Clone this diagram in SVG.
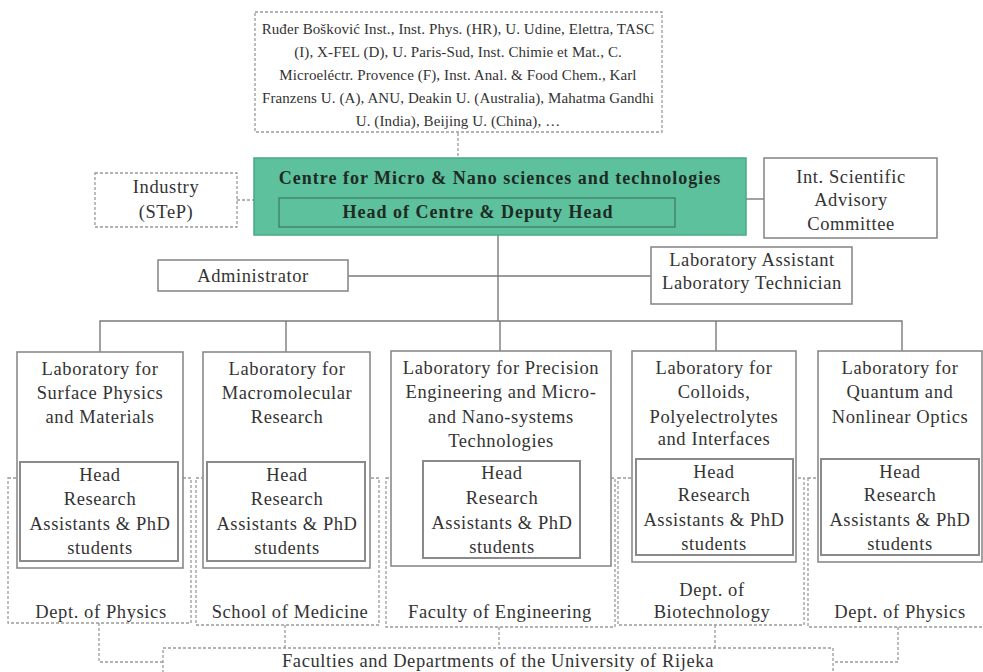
<svg xmlns="http://www.w3.org/2000/svg" width="983" height="672" viewBox="0 0 983 672">
  <style>
    text { font-family: "Liberation Serif", "Times New Roman", serif; fill: #333333; text-anchor: middle; }
    .t { font-size: 18.5px; letter-spacing: 0.6px; }
    .small { font-size: 15px; letter-spacing: 0.1px; }
    .bold { font-size: 18px; font-weight: bold; letter-spacing: 1px; fill: #1f2a24; }
    .box { fill: #ffffff; stroke: #8a8a8a; stroke-width: 1.6; }
    .inner { fill: #ffffff; stroke: #8a8a8a; stroke-width: 2; }
    .dbox { fill: none; stroke: #9a9a9a; stroke-width: 1.3; stroke-dasharray: 3 2; }
    .line { fill: none; stroke: #7a7a7a; stroke-width: 1.4; }
    .dline { fill: none; stroke: #9a9a9a; stroke-width: 1.3; stroke-dasharray: 3 2; }
  </style>

  <!-- Department frames (drawn first, laboratories sit on top) -->
  <g id="dept-physics-1">
    <rect class="dbox" x="8" y="478" width="183" height="145"/>
    <text class="t" x="101" y="618">Dept. of Physics</text>
  </g>
  <g id="dept-medicine">
    <rect class="dbox" x="196" y="478" width="183" height="147"/>
    <text class="t" x="290" y="618">School of Medicine</text>
  </g>
  <g id="dept-engineering">
    <rect class="dbox" x="386" y="478" width="229" height="149"/>
    <text class="t" x="500" y="618">Faculty of Engineering</text>
  </g>
  <g id="dept-biotechnology">
    <rect class="dbox" x="618" y="478" width="186" height="147"/>
    <text class="t" x="712" y="596">Dept. of</text>
    <text class="t" x="712" y="618">Biotechnology</text>
  </g>
  <g id="dept-physics-2">
    <rect class="dbox" x="808" y="478" width="185" height="149"/>
    <text class="t" x="900" y="618">Dept. of Physics</text>
  </g>

  <!-- Connectors -->
  <g id="connectors">
    <line class="dline" x1="458" y1="133" x2="458" y2="158"/>
    <line class="dline" x1="237" y1="200" x2="254" y2="200"/>
    <line class="line" x1="746" y1="199" x2="764" y2="199"/>
    <line class="line" x1="498" y1="235" x2="498" y2="321"/>
    <line class="line" x1="348" y1="276" x2="651" y2="276"/>
    <polyline class="line" points="100,352 100,321 902,321 902,351"/>
    <line class="line" x1="286" y1="321" x2="286" y2="352"/>
    <line class="line" x1="500" y1="321" x2="500" y2="351"/>
    <line class="line" x1="716" y1="321" x2="716" y2="351"/>
    <polyline class="dline" points="99,623 99,662 163,662"/>
    <line class="dline" x1="285" y1="625" x2="285" y2="648"/>
    <line class="dline" x1="499" y1="627" x2="499" y2="648"/>
    <line class="dline" x1="715" y1="625" x2="715" y2="648"/>
    <polyline class="dline" points="898,627 898,662 833,662"/>
  </g>

  <!-- Partner institutions -->
  <g id="partners">
    <rect class="dbox" x="255" y="12" width="407" height="120"/>
    <text class="small" x="458" y="34">Ruđer Bošković Inst., Inst. Phys. (HR), U. Udine, Elettra, TASC</text>
    <text class="small" x="458" y="57">(I), X-FEL (D), U. Paris-Sud, Inst. Chimie et Mat., C.</text>
    <text class="small" x="458" y="80">Microeléctr. Provence (F), Inst. Anal. &amp; Food Chem., Karl</text>
    <text class="small" x="458" y="103">Franzens U. (A), ANU, Deakin U. (Australia), Mahatma Gandhi</text>
    <text class="small" x="458" y="126">U. (India), Beijing U. (China), …</text>
  </g>

  <!-- Centre -->
  <g id="centre">
    <rect x="254" y="158" width="492" height="77" fill="#5cc19c" stroke="#4aa886" stroke-width="1.5"/>
    <text class="bold" x="500" y="184">Centre for Micro &amp; Nano sciences and technologies</text>
    <rect x="279" y="198" width="396" height="29" fill="none" stroke="#3f7f66" stroke-width="1.3"/>
    <text class="bold" x="478" y="218">Head of Centre &amp; Deputy Head</text>
  </g>

  <g id="industry">
    <rect class="dbox" x="95" y="173" width="142" height="54"/>
    <text class="t" x="166" y="193">Industry</text>
    <text class="t" x="166" y="218">(STeP)</text>
  </g>

  <g id="advisory">
    <rect class="box" x="764" y="158" width="173" height="80"/>
    <text class="t" x="851" y="183">Int. Scientific</text>
    <text class="t" x="851" y="206">Advisory</text>
    <text class="t" x="851" y="230">Committee</text>
  </g>

  <g id="administrator">
    <rect class="box" x="158" y="260" width="190" height="31"/>
    <text class="t" x="253" y="282">Administrator</text>
  </g>

  <g id="lab-staff">
    <rect class="box" x="651" y="247" width="201" height="57"/>
    <text class="t" x="752" y="266">Laboratory Assistant</text>
    <text class="t" x="752" y="289">Laboratory Technician</text>
  </g>

  <!-- Laboratories -->
  <g id="lab-surface">
    <rect class="box" x="17" y="352" width="166" height="216"/>
    <text class="t" x="100" y="375">Laboratory for</text>
    <text class="t" x="100" y="399">Surface Physics</text>
    <text class="t" x="100" y="423">and Materials</text>
    <rect class="inner" x="20" y="462" width="158" height="99"/>
    <text class="t" x="100" y="481">Head</text>
    <text class="t" x="100" y="505">Research</text>
    <text class="t" x="100" y="530">Assistants &amp; PhD</text>
    <text class="t" x="100" y="554">students</text>
  </g>

  <g id="lab-macromolecular">
    <rect class="box" x="203" y="352" width="167" height="216"/>
    <text class="t" x="287" y="375">Laboratory for</text>
    <text class="t" x="287" y="399">Macromolecular</text>
    <text class="t" x="287" y="423">Research</text>
    <rect class="inner" x="207" y="462" width="158" height="99"/>
    <text class="t" x="287" y="481">Head</text>
    <text class="t" x="287" y="505">Research</text>
    <text class="t" x="287" y="530">Assistants &amp; PhD</text>
    <text class="t" x="287" y="554">students</text>
  </g>

  <g id="lab-precision">
    <rect class="box" x="391" y="351" width="220" height="215"/>
    <text class="t" x="501" y="374">Laboratory for Precision</text>
    <text class="t" x="501" y="398">Engineering  and Micro-</text>
    <text class="t" x="501" y="423">and Nano-systems</text>
    <text class="t" x="501" y="447">Technologies</text>
    <rect class="inner" x="423" y="461" width="157" height="97"/>
    <text class="t" x="502" y="479">Head</text>
    <text class="t" x="502" y="504">Research</text>
    <text class="t" x="502" y="529">Assistants &amp; PhD</text>
    <text class="t" x="502" y="553">students</text>
  </g>

  <g id="lab-colloids">
    <rect class="box" x="632" y="351" width="164" height="211"/>
    <text class="t" x="714" y="374">Laboratory for</text>
    <text class="t" x="714" y="398">Colloids,</text>
    <text class="t" x="714" y="423">Polyelectrolytes</text>
    <text class="t" x="714" y="445">and Interfaces</text>
    <rect class="inner" x="636" y="459" width="157" height="96"/>
    <text class="t" x="714" y="478">Head</text>
    <text class="t" x="714" y="501">Research</text>
    <text class="t" x="714" y="526">Assistants &amp; PhD</text>
    <text class="t" x="714" y="550">students</text>
  </g>

  <g id="lab-quantum">
    <rect class="box" x="818" y="351" width="164" height="211"/>
    <text class="t" x="900" y="374">Laboratory for</text>
    <text class="t" x="900" y="398">Quantum  and</text>
    <text class="t" x="900" y="423">Nonlinear Optics</text>
    <rect class="inner" x="821" y="459" width="158" height="96"/>
    <text class="t" x="900" y="478">Head</text>
    <text class="t" x="900" y="501">Research</text>
    <text class="t" x="900" y="526">Assistants &amp; PhD</text>
    <text class="t" x="900" y="550">students</text>
  </g>

  <!-- University -->
  <g id="university">
    <rect class="dbox" x="163" y="648" width="670" height="40"/>
    <text class="t" x="498" y="667">Faculties and Departments of the University of Rijeka</text>
  </g>
</svg>
